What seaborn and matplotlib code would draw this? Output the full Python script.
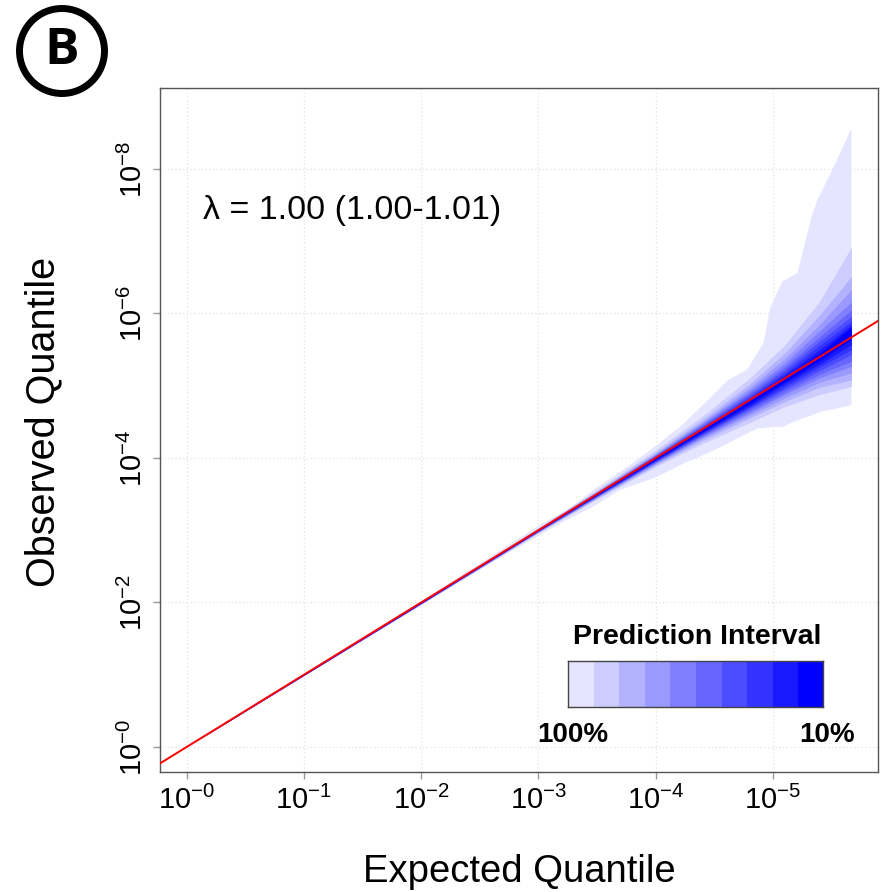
import numpy as np
import matplotlib
matplotlib.use("Agg")
import matplotlib.pyplot as plt
import seaborn as sns
from matplotlib.patches import Circle
from matplotlib.colors import ListedColormap

# ---------------- data (-log10 scale) ----------------
x_ticks = [0, 1, 2, 3, 4, 5]
x_tick_labels = ["$10^{-0}$", "$10^{-1}$", "$10^{-2}$", "$10^{-3}$", "$10^{-4}$", "$10^{-5}$"]
y_ticks = [0, 2, 4, 6, 8]
y_tick_labels = ["$10^{-0}$", "$10^{-2}$", "$10^{-4}$", "$10^{-6}$", "$10^{-8}$"]

levels = ["100%", "90%", "80%", "70%", "60%", "50%", "40%", "30%", "20%", "10%"]
band_colors = ["#E5E5FF", "#CCCCFF", "#B2B2FF", "#9999FF", "#7F7FFF",
               "#6666FF", "#4C4CFF", "#3333FF", "#1919FF", "#0000FF"]

# 100% interval (outer envelope)
full_upper_x = [0.0, 1.0, 2.0, 2.5, 3.04, 3.25, 3.47, 3.78, 4.02, 4.15, 4.21, 4.40,
                4.62, 4.78, 4.92, 4.98, 5.08, 5.21, 5.33, 5.38, 5.52, 5.67]
full_upper_y = [0.0, 1.005, 2.015, 2.54, 3.10, 3.28, 3.56, 3.90, 4.19, 4.36, 4.43, 4.73,
                5.08, 5.22, 5.59, 6.09, 6.44, 6.56, 7.34, 7.57, 8.03, 8.56]
full_lower_x = [0.0, 1.0, 2.0, 2.5, 2.9, 3.19, 3.47, 3.70, 4.00, 4.27, 4.38, 4.54,
                4.78, 4.87, 5.01, 5.08, 5.18, 5.41, 5.67]
full_lower_y = [0.0, 0.995, 1.985, 2.46, 2.83, 3.10, 3.33, 3.56, 3.73, 3.95, 4.02, 4.14,
                4.34, 4.41, 4.43, 4.43, 4.50, 4.64, 4.73]

# inner intervals (90% ... 10%)
band_x = [0.0, 2.0, 3.0, 3.5, 4.0, 4.4, 4.8, 5.1, 5.4, 5.67]
upper_90 = [0.0, 2.012, 3.036, 3.560, 4.11, 4.58, 5.10, 5.56, 6.17, 6.92]
upper_80 = [0.0, 2.009, 3.028, 3.546, 4.08, 4.53, 5.02, 5.45, 5.98, 6.51]
upper_70 = [0.0, 2.007, 3.023, 3.536, 4.06, 4.50, 4.97, 5.37, 5.85, 6.33]
upper_60 = [0.0, 2.006, 3.019, 3.528, 4.05, 4.48, 4.93, 5.31, 5.76, 6.16]
upper_50 = [0.0, 2.005, 3.015, 3.522, 4.04, 4.46, 4.90, 5.26, 5.68, 6.05]
upper_40 = [0.0, 2.004, 3.012, 3.516, 4.03, 4.44, 4.87, 5.22, 5.62, 5.96]
upper_30 = [0.0, 2.003, 3.008, 3.510, 4.02, 4.42, 4.84, 5.18, 5.56, 5.89]
upper_20 = [0.0, 2.002, 3.006, 3.505, 4.01, 4.41, 4.82, 5.15, 5.50, 5.84]
upper_10 = [0.0, 2.001, 3.003, 3.500, 4.00, 4.39, 4.79, 5.11, 5.45, 5.81]
lower_10 = [0.0, 1.994, 2.997, 3.490, 3.98, 4.37, 4.75, 5.05, 5.35, 5.64]
lower_20 = [0.0, 1.992, 2.994, 3.485, 3.97, 4.35, 4.72, 5.02, 5.30, 5.57]
lower_30 = [0.0, 1.990, 2.992, 3.480, 3.96, 4.34, 4.70, 4.98, 5.26, 5.50]
lower_40 = [0.0, 1.988, 2.988, 3.474, 3.95, 4.32, 4.68, 4.95, 5.21, 5.43]
lower_50 = [0.0, 1.986, 2.985, 3.468, 3.94, 4.31, 4.65, 4.91, 5.16, 5.34]
lower_60 = [0.0, 1.984, 2.981, 3.462, 3.93, 4.29, 4.62, 4.88, 5.11, 5.27]
lower_70 = [0.0, 1.982, 2.977, 3.454, 3.92, 4.27, 4.59, 4.83, 5.05, 5.18]
lower_80 = [0.0, 1.979, 2.972, 3.444, 3.90, 4.24, 4.55, 4.78, 4.98, 5.08]
lower_90 = [0.0, 1.975, 2.964, 3.430, 3.88, 4.20, 4.49, 4.71, 4.88, 4.99]

inner_upper = [upper_90, upper_80, upper_70, upper_60, upper_50,
               upper_40, upper_30, upper_20, upper_10]
inner_lower = [lower_90, lower_80, lower_70, lower_60, lower_50,
               lower_40, lower_30, lower_20, lower_10]

lambda_text = "\u03bb = 1.00 (1.00-1.01)"

# ---------------- style ----------------
sns.set_theme(style="white")
plt.rcParams["font.family"] = ["Liberation Sans", "DejaVu Sans"]
plt.rcParams["mathtext.fontset"] = "custom"
plt.rcParams["mathtext.rm"] = "Liberation Sans"
plt.rcParams["mathtext.it"] = "Liberation Sans:italic"
plt.rcParams["mathtext.bf"] = "Liberation Sans:bold"
plt.rcParams["text.color"] = "black"
plt.rcParams["axes.labelcolor"] = "black"
plt.rcParams["xtick.color"] = "black"
plt.rcParams["ytick.color"] = "black"

fig = plt.figure(figsize=(8.82, 8.92), dpi=100)
ax = fig.add_axes([160 / 882, 120 / 892, 718 / 882, 684 / 892])

# outer 100% envelope
poly_x = np.concatenate([full_upper_x, full_lower_x[::-1]])
poly_y = np.concatenate([full_upper_y, full_lower_y[::-1]])
ax.fill(poly_x, poly_y, color=band_colors[0], lw=0, zorder=2)

# inner bands
for col, up, lo in zip(band_colors[1:], inner_upper, inner_lower):
    ax.fill_between(band_x, lo, up, color=col, lw=0, zorder=3)

# reference line y = x
ax.axline((0, 0), slope=1, color="#FF0000", lw=1.4, zorder=4)

ax.set_xlim(-0.227, 5.897)
ax.set_ylim(-0.346, 9.121)

ax.set_xticks(x_ticks)
ax.set_xticklabels(x_tick_labels)
ax.set_yticks(y_ticks)
ax.set_yticklabels(y_tick_labels, rotation=90, va="center")

ax.tick_params(axis="both", which="major", bottom=True, left=True, length=5,
               width=1, color="#999999", direction="out", labelsize=21,
               labelcolor="black")
ax.tick_params(axis="x", pad=5)
ax.tick_params(axis="y", pad=4)

ax.grid(True, color="#e2e2e2", linestyle=(0, (1, 2)), lw=0.9)
ax.set_axisbelow(True)
for s in ax.spines.values():
    s.set_visible(True)
    s.set_color("#555555")
    s.set_linewidth(1.0)

ax.set_xlabel("Expected Quantile", fontsize=27.5, color="black")
ax.set_ylabel("Observed Quantile", fontsize=28.5, color="black")
ax.xaxis.set_label_coords(0.5, -0.146)
ax.xaxis.label.set_verticalalignment("center")
ax.yaxis.set_label_coords(-0.163, 0.512)
ax.yaxis.label.set_verticalalignment("center")

ax.text(0.136, 7.43, lambda_text, ha="left", va="center", fontsize=24.5, color="black")

# legend for the prediction interval bands
ax.text(0.748, 0.197, "Prediction Interval", transform=ax.transAxes,
        ha="center", va="center", fontsize=20.5, fontweight="bold", color="black")
cax = ax.inset_axes([0.5682, 0.0950, 0.3552, 0.0673])
cax.imshow(np.arange(len(levels))[None, :], cmap=ListedColormap(band_colors),
           aspect="auto", interpolation="nearest")
cax.set_xticks([])
cax.set_yticks([])
for s in cax.spines.values():
    s.set_visible(True)
    s.set_color("#444444")
    s.set_linewidth(1.0)
ax.text(0.575, 0.054, levels[0], transform=ax.transAxes, ha="center", va="center",
        fontsize=20, fontweight="bold", color="black")
ax.text(0.9297, 0.054, levels[-1], transform=ax.transAxes, ha="center", va="center",
        fontsize=20, fontweight="bold", color="black")

# panel letter
fig.add_artist(Circle((0.62, 8.41), 0.425, transform=fig.dpi_scale_trans,
                      fill=False, lw=5.0, ec="black"))
fig.text(62 / 882, 1 - 51 / 892, "B", ha="center", va="center", fontsize=37,
         fontweight="bold", color="black", family=["Open Sans", "DejaVu Sans"])

fig.savefig("out.png", dpi=100)
